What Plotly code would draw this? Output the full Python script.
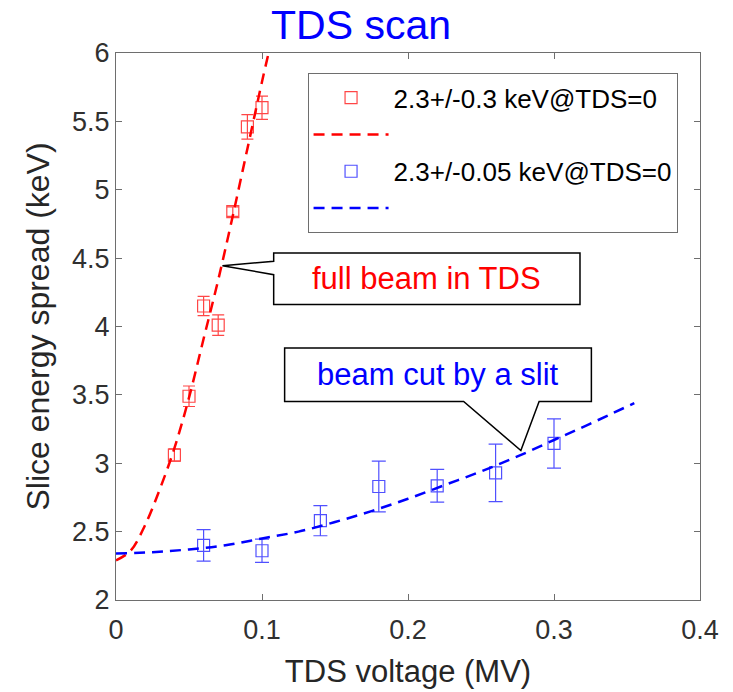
import plotly.graph_objects as go

# ---- data ----
red_v = [0.04, 0.05, 0.06, 0.07, 0.08, 0.09, 0.10]
red_e = [3.06, 3.49, 4.15, 4.01, 4.84, 5.46, 5.60]
red_err = [0.045, 0.075, 0.07, 0.075, 0.035, 0.09, 0.085]

blue_v = [0.06, 0.10, 0.14, 0.18, 0.22, 0.26, 0.30]
blue_e = [2.40, 2.36, 2.58, 2.83, 2.835, 2.93, 3.145]
blue_err = [0.115, 0.085, 0.11, 0.185, 0.12, 0.21, 0.18]

red_fit_v = [0, 0.01, 0.02, 0.03, 0.04, 0.05, 0.06, 0.07, 0.08, 0.09, 0.10, 0.1045]
red_fit_e = [2.29, 2.36, 2.55, 2.81, 3.11, 3.48, 3.91, 4.34, 4.81, 5.30, 5.79, 6.0]

blue_fit_v = [0, 0.025, 0.05, 0.075, 0.10, 0.125, 0.15, 0.175, 0.20, 0.225, 0.25, 0.275, 0.30, 0.325, 0.355]
blue_fit_e = [2.34, 2.35, 2.37, 2.40, 2.45, 2.50, 2.57, 2.65, 2.74, 2.84, 2.94, 3.05, 3.17, 3.29, 3.44]

x_ticks = [0, 0.1, 0.2, 0.3, 0.4]
x_tick_labels = ["0", "0.1", "0.2", "0.3", "0.4"]
y_ticks = [2, 2.5, 3, 3.5, 4, 4.5, 5, 5.5, 6]
y_tick_labels = ["2", "2.5", "3", "3.5", "4", "4.5", "5", "5.5", "6"]

FONT = "Arial, Liberation Sans, sans-serif"
RED_M = "rgb(255,70,70)"
BLUE_M = "rgb(80,80,255)"

fig = go.Figure()

fig.add_trace(go.Scatter(
    x=red_v, y=red_e, mode="markers", name="2.3+/-0.3 keV@TDS=0",
    marker=dict(symbol="square-open", size=12, color=RED_M, line=dict(width=1.2, color=RED_M)),
    error_y=dict(type="data", array=red_err, visible=True, color=RED_M, thickness=1.2, width=6),
))
fig.add_trace(go.Scatter(
    x=red_fit_v, y=red_fit_e, mode="lines", name=" ",
    line=dict(color="red", width=2.5, dash="11px,7px", shape="spline"),
))
fig.add_trace(go.Scatter(
    x=blue_v, y=blue_e, mode="markers", name="2.3+/-0.05 keV@TDS=0",
    marker=dict(symbol="square-open", size=12, color=BLUE_M, line=dict(width=1.2, color=BLUE_M)),
    error_y=dict(type="data", array=blue_err, visible=True, color=BLUE_M, thickness=1.2, width=7),
))
fig.add_trace(go.Scatter(
    x=blue_fit_v, y=blue_fit_e, mode="lines", name="  ",
    line=dict(color="blue", width=2.5, dash="11px,7px", shape="spline"),
))

# ---- callout outlines (data coordinates) ----
red_callout = "M0.108,4.538 L0.3178,4.538 L0.3178,4.160 L0.108,4.160 L0.108,4.379 L0.0729,4.445 L0.108,4.477 Z"
blue_callout = "M0.1155,3.843 L0.3256,3.843 L0.3256,3.452 L0.2898,3.452 L0.2773,3.093 L0.2381,3.452 L0.1155,3.452 Z"
for p in (red_callout, blue_callout):
    fig.add_shape(type="path", path=p, xref="x", yref="y",
                  fillcolor="white", line=dict(color="black", width=1.5), layer="above")

fig.add_annotation(x=0.2126, y=4.35, xref="x", yref="y", text="full beam in TDS",
                   showarrow=False, font=dict(family=FONT, size=31, color="red"))
fig.add_annotation(x=0.2206, y=3.647, xref="x", yref="y", text="beam cut by a slit",
                   showarrow=False, font=dict(family=FONT, size=31, color="blue"))

axis_common = dict(
    showline=True, linecolor="#6e6e6e", linewidth=1, mirror="ticks",
    ticks="inside", ticklen=6, tickcolor="#6e6e6e", tickwidth=1,
    showgrid=False, zeroline=False, automargin=False,
    tickfont=dict(family=FONT, size=27, color="#303030"),
)

fig.update_layout(
    width=733, height=692,
    margin=dict(l=116, r=33, t=53, b=92, autoexpand=False),
    paper_bgcolor="white", plot_bgcolor="white",
    font=dict(family=FONT, color="#262626"),
    title=dict(text="TDS scan", x=0.4925, xanchor="center", xref="container",
               y=0.965, yanchor="middle", yref="container",
               font=dict(family=FONT, size=41, color="#0000ff")),
    xaxis=dict(range=[0, 0.4], tickvals=x_ticks, ticktext=x_tick_labels,
               ticklabelstandoff=6,
               title=dict(text="TDS voltage (MV)", font=dict(family=FONT, size=31, color="#262626"), standoff=15),
               **axis_common),
    yaxis=dict(range=[2, 6], tickvals=y_ticks, ticktext=y_tick_labels,
               title=dict(text="Slice energy spread (keV)", font=dict(family=FONT, size=32, color="#262626"), standoff=12),
               **axis_common),
    legend=dict(x=0.328, y=0.963, xanchor="left", yanchor="top",
                bgcolor="white", bordercolor="#6e6e6e", borderwidth=1,
                font=dict(family=FONT, size=26, color="#000000"),
                itemwidth=75, tracegroupgap=0),
    showlegend=True,
)

fig.write_html("out.html", config={"displayModeBar": False},
               post_script="document.body.style.margin='0';document.body.style.overflow='hidden';")
